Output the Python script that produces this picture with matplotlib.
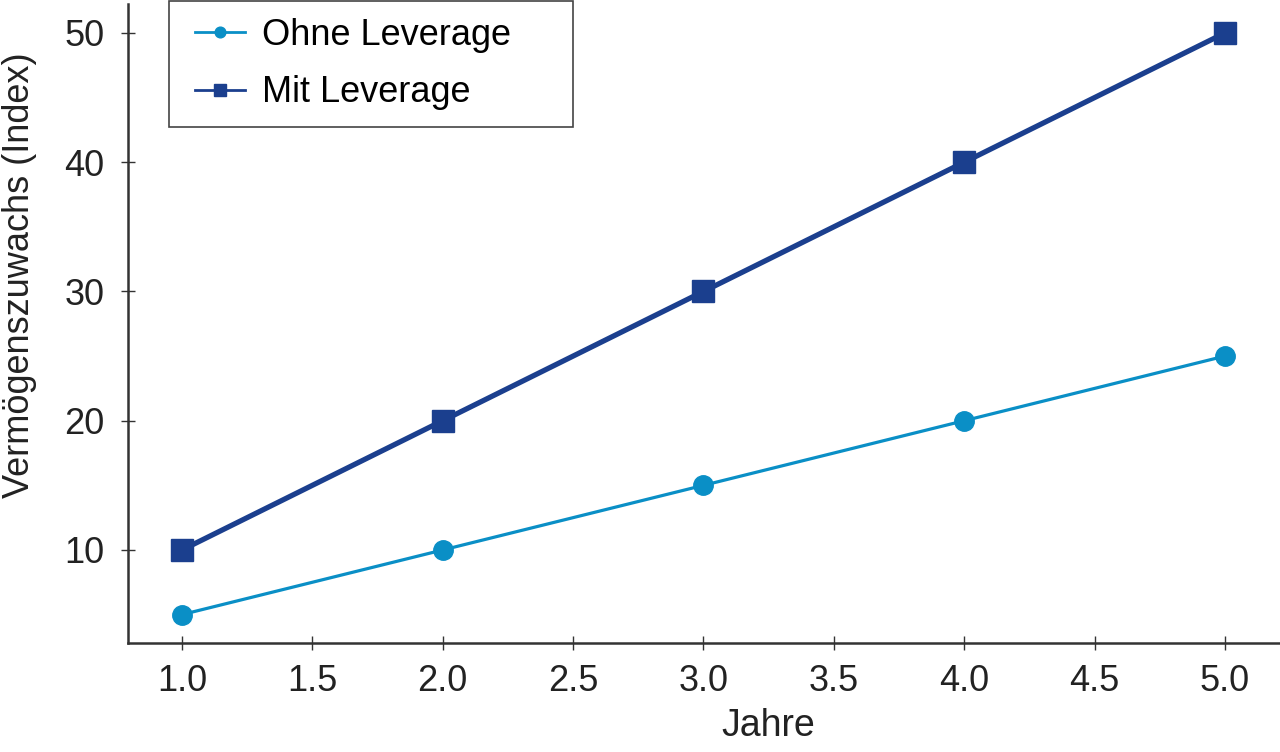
import matplotlib.pyplot as plt
from matplotlib.patches import Rectangle

# --- data ---
years = [1.0, 2.0, 3.0, 4.0, 5.0]
ohne_leverage = [5, 10, 15, 20, 25]
mit_leverage = [10, 20, 30, 40, 50]
x_ticks = [1.0, 1.5, 2.0, 2.5, 3.0, 3.5, 4.0, 4.5, 5.0]
y_ticks = [10, 20, 30, 40, 50]

plt.rcParams['font.family'] = ['Liberation Sans', 'DejaVu Sans']

W, H = 1280, 752
fig = plt.figure(figsize=(W / 100, H / 100), dpi=100)
ax = fig.add_axes([0.1, 0.145, 0.9, 0.8497])

light = '#0a8fc6'
dark = '#1b3f8e'

ax.plot(years, ohne_leverage, color=light, lw=2.3, marker='o', ms=14,
        label='Ohne Leverage', zorder=3)
ax.plot(years, mit_leverage, color=dark, lw=3.8, marker='s', ms=15.5,
        label='Mit Leverage', zorder=3)

ax.set_xlim(0.793, 5.211)
ax.set_ylim(2.805, 52.24)
ax.set_xticks(x_ticks)
ax.set_xticklabels([f'{v:.1f}' for v in x_ticks])
ax.set_yticks(y_ticks)

for side in ('top', 'right'):
    ax.spines[side].set_visible(False)
for side in ('left', 'bottom'):
    ax.spines[side].set_linewidth(1.8)
    ax.spines[side].set_color('#333333')

ax.tick_params(direction='inout', length=10, width=1, colors='#333333',
               labelsize=26, labelcolor='#222222')
ax.tick_params(axis='y', pad=12)
ax.tick_params(axis='x', pad=10)

ax.set_xlabel('Jahre', fontsize=27, color='#222222')
ax.set_ylabel('Vermögenszuwachs (Index)', fontsize=26, color='#222222')
# labels in the reference are not centred on the axes
ax.xaxis.set_label_coords(0.556, -0.1017)
ax.yaxis.set_label_coords(-0.079, 0.575)

# legend without its own frame; frame drawn as a separate box
leg = ax.legend(loc='upper left', bbox_to_anchor=(195 / W, 1 - 18 / H),
                bbox_transform=fig.transFigure, borderaxespad=0, borderpad=0,
                fontsize=26, markerscale=0.55, handlelength=1.39,
                handletextpad=0.47, labelspacing=0.62, frameon=False)
for line in leg.get_lines():
    line.set_linewidth(2.0)
fig.patches.append(Rectangle((169 / W, 1 - 127 / H), (573 - 169) / W, 126 / H,
                             transform=fig.transFigure, fill=False,
                             edgecolor='#444444', linewidth=1.2))

fig.savefig('out.png', dpi=100)
